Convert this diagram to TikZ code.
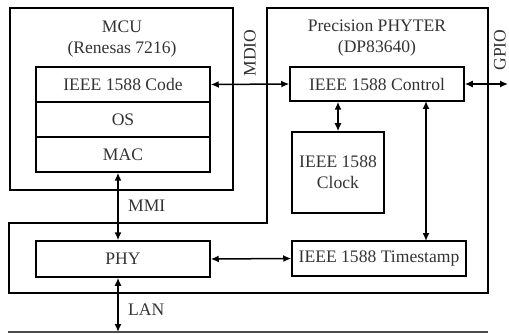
\documentclass[tikz,border=0pt]{standalone}
\usepackage{fontspec}
\setmainfont{Liberation Serif}
\usetikzlibrary{arrows.meta}
\begin{document}
\begin{tikzpicture}[x=1pt,y=-1pt,
  box/.style={draw,line width=1.5pt,minimum width=174pt,minimum height=35pt,inner sep=0pt,font=\fontsize{17.6}{20}\selectfont,text=black!80},
  lbl/.style={font=\fontsize{17.6}{20}\selectfont,text=black!80,inner sep=0pt},
  frame/.style={draw,line width=1.5pt},
  conn/.style={line width=1.5pt,{Latex[length=8pt,width=7pt]}-{Latex[length=8pt,width=7pt]}}]
\useasboundingbox (0,0) rectangle (509,334);
% outer frames
\draw[frame] (10,8) rectangle (233,190);
\draw[frame] (267,223) -- (267,8) -- (488,8) -- (488,293) -- (9,293) -- (9,223) -- cycle;
\draw[line width=1.2pt,black!70] (8,332) -- (488,332);
% titles
\node[lbl,align=center] (mcu) at (122,39) {MCU\\[1pt](Renesas 7216)};
\node[lbl,align=center] (phyter) at (377,38) {Precision PHYTER\\[1pt](DP83640)};
% MCU stack
\node[box] (code) at (123,84.5) {IEEE 1588 Code};
\node[box] (os) at (123,119.5) {OS};
\node[box] (mac) at (123,154.5) {MAC};
% PHYTER blocks
\node[box,minimum height=34pt] (ctrl) at (377,84) {IEEE 1588 Control};
\node[box,minimum width=92pt,minimum height=81pt,align=center] (clk) at (338,172.5) {IEEE 1588\\[1pt]Clock};
\node[box] (ts) at (379,258.5) {IEEE 1588 Timestamp};
\node[box,minimum height=36pt] (phy) at (123,259) {PHY};
% coordinates
\coordinate (gpioend) at (508,84);
\coordinate (lanend) at (118,332);
% connectors
\draw[conn] (code.east) -- (ctrl.west);
\draw[conn] (ctrl.east) -- (gpioend);
\draw[conn] (ctrl.south -| clk.north) -- (clk.north);
\draw[conn] (426,101) -- (426,241);
\draw[conn] (phy.east) -- (ts.west);
\draw[conn] (mac.south -| 118,0) -- (phy.north -| 118,0);
\draw[conn] (phy.south -| lanend) -- (lanend);
% labels
\node[lbl,rotate=90] (mdio) at (250,53) {MDIO};
\node[lbl,rotate=90] (gpio) at (500,50) {GPIO};
\node[lbl,anchor=west] (mmi) at (128,206) {MMI};
\node[lbl,anchor=west] (lan) at (128,310) {LAN};
\end{tikzpicture}
\end{document}
